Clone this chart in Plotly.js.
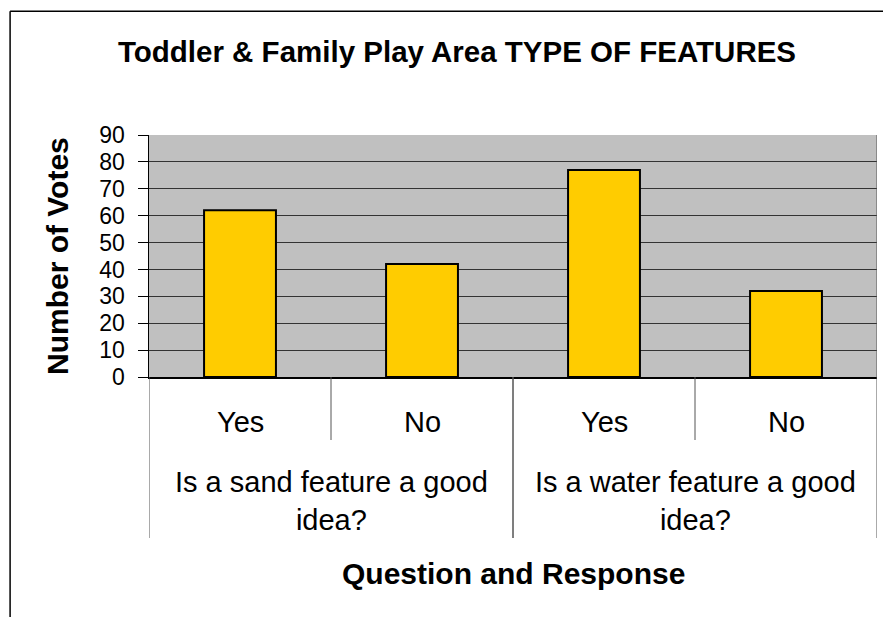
<!DOCTYPE html>
<html>
<head>
<meta charset="utf-8">
<script src="https://cdn.plot.ly/plotly-3.0.1.min.js"></script>
<style>html,body{margin:0;padding:0;background:#fff;}#chart{width:883px;height:617px;}</style>
</head>
<body>
<div id="chart"></div>
<script>
// ---- data ----
const chartTitle = "Toddler & Family Play Area TYPE OF FEATURES";
const yTitle = "Number of Votes";
const xTitle = "Question and Response";
const questions = ["Is a sand feature a good<br>idea?", "Is a water feature a good<br>idea?"];
const responses = ["Yes", "No", "Yes", "No"];
const questionOfBar = [0, 0, 1, 1];
const votes = [62, 42, 77, 32];
const yTicks = [0, 10, 20, 30, 40, 50, 60, 70, 80, 90];

// ---- build ----
const FONT = "Liberation Sans, Arial, sans-serif";
const idx = responses.map((_, i) => i);

const trace = {
  type: "bar",
  x: idx,
  y: votes,
  marker: {color: "#FFCC00", line: {color: "#000000", width: 2}},
  hoverinfo: "y"
};

const annotations = [];
const shapes = [];

// response labels
responses.forEach((r, i) => {
  annotations.push({
    xref: "x", yref: "paper", x: i, y: 0, yanchor: "middle", yshift: -45,
    text: r, showarrow: false, font: {family: FONT, size: 29, color: "#000"}
  });
});
// question labels + dividers
questions.forEach((q, g) => {
  const members = idx.filter(i => questionOfBar[i] === g);
  const mid = members.reduce((a, b) => a + b, 0) / members.length;
  annotations.push({
    xref: "x", yref: "paper", x: mid, y: 0, yanchor: "middle", yshift: -124,
    text: q, showarrow: false, font: {family: FONT, size: 29, color: "#000"}
  });
  for (let k = 0; k < members.length - 1; k++) {
    shapes.push({type: "line", xref: "x", yref: "paper",
      x0: members[k] + 0.5, x1: members[k] + 0.5, y0: 0, y1: -63 / 242,
      line: {color: "#555", width: 1}});
  }
  const left = members[0] - 0.5, right = members[members.length - 1] + 0.5;
  shapes.push({type: "line", xref: "x", yref: "paper",
    x0: left, x1: left, y0: 0, y1: -161 / 242, line: {color: "#555", width: 1}});
  shapes.push({type: "line", xref: "x", yref: "paper",
    x0: right, x1: right, y0: (right === idx.length - 0.5 ? 1 : 0), y1: -161 / 242,
    line: {color: "#555", width: 1}});
});

// axis titles
annotations.push({
  xref: "paper", yref: "paper", x: 0.5, y: 0, yanchor: "middle", yshift: -196,
  text: "<b>" + xTitle + "</b>", showarrow: false, font: {family: FONT, size: 30, color: "#000"}
});
annotations.push({
  xref: "paper", yref: "paper", x: 0, y: 0.5, xanchor: "center", yanchor: "middle", xshift: -92,
  textangle: -90,
  text: "<b>" + yTitle + "</b>", showarrow: false, font: {family: FONT, size: 30, color: "#000"}
});

// chart-area border (left and top)
shapes.push({type: "line", xref: "paper", yref: "paper",
  x0: -139 / 728.5, x1: -139 / 728.5, y0: (376.7 - 11) / 242, y1: -1.1, line: {color: "#000", width: 1.5}});
shapes.push({type: "line", xref: "paper", yref: "paper",
  x0: -139 / 728.5, x1: 1.2, y0: (376.7 - 11) / 242, y1: (376.7 - 11) / 242, line: {color: "#000", width: 1.5}});

const layout = {
  width: 883, height: 617,
  margin: {l: 148.5, r: 6, t: 134.7, b: 240.3},
  paper_bgcolor: "#ffffff",
  plot_bgcolor: "#C0C0C0",
  showlegend: false,
  bargap: 0.605,
  title: {
    text: "<b>" + chartTitle + "</b>",
    x: 457 / 883, xanchor: "center", xref: "container",
    y: 1 - 52 / 617, yanchor: "middle", yref: "container",
    font: {family: FONT, size: 29.5, color: "#000"}
  },
  xaxis: {
    range: [-0.5, idx.length - 0.5],
    showticklabels: false, showgrid: false, zeroline: false,
    ticks: "", showline: true, linecolor: "#000", linewidth: 1.5
  },
  yaxis: {
    range: [0, 90], tickvals: yTicks, ticktext: yTicks.map(String),
    showgrid: true, gridcolor: "#333333", gridwidth: 1,
    zeroline: false, showline: true, linecolor: "#000", linewidth: 1.5,
    ticks: "outside", ticklen: 10, tickcolor: "#000", tickwidth: 1,
    ticklabelstandoff: 8,
    tickfont: {family: FONT, size: 23, color: "#000"}
  },
  annotations: annotations,
  shapes: shapes
};

Plotly.newPlot("chart", [trace], layout, {displayModeBar: false, staticPlot: true});
</script>
</body>
</html>
